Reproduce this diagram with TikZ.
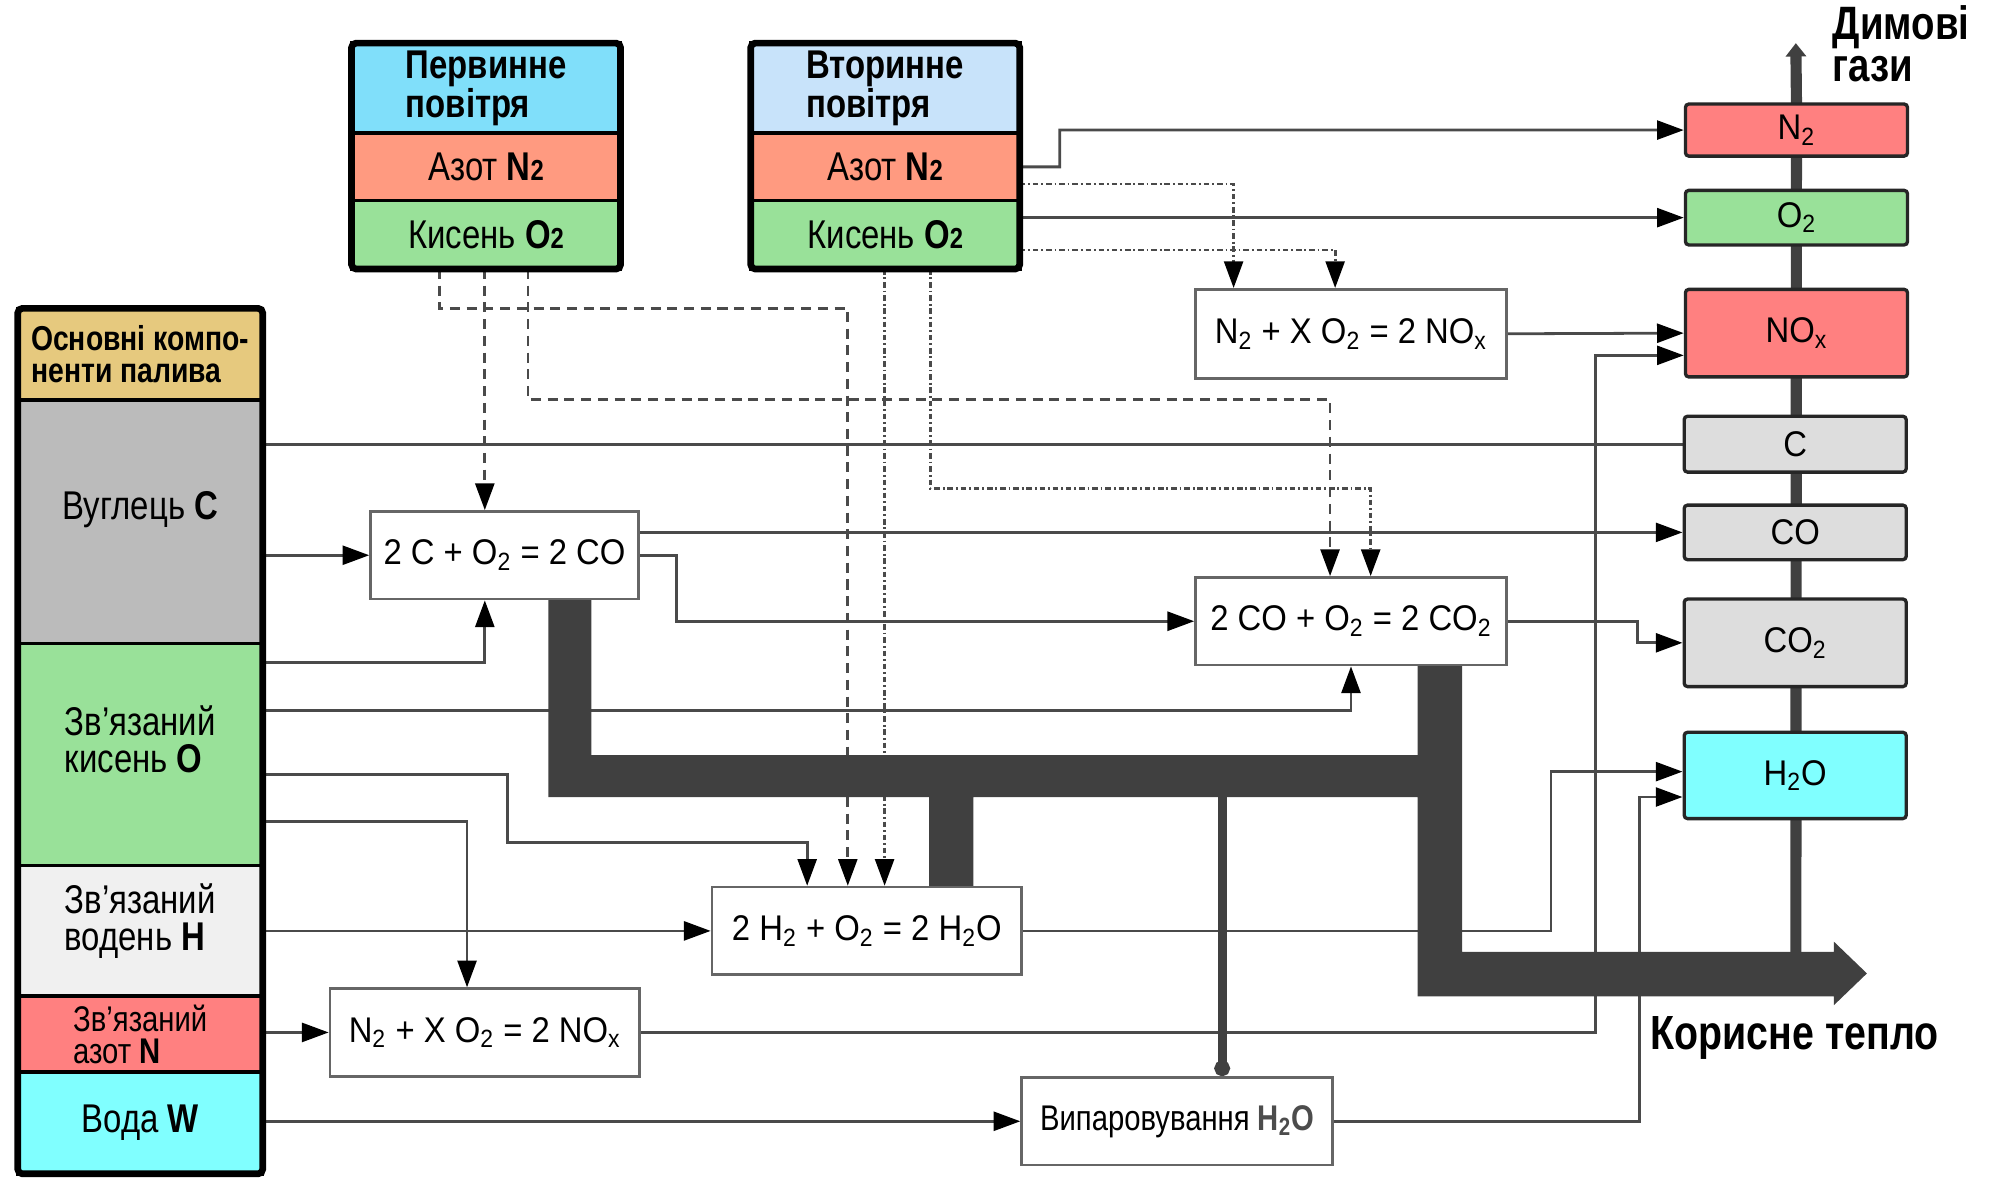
\documentclass[tikz,border=0pt]{standalone}
\usepackage{fontspec}
\setmainfont{Liberation Sans}
\newfontfamily\narrowf{Liberation Sans}[FakeStretch=0.82]
\newfontfamily\eqnf{Liberation Sans}[FakeStretch=0.92]
\usepackage{xcolor}
\usepackage{tikz}
\usetikzlibrary{positioning, arrows.meta}
\pgfdeclarelayer{background}
\pgfsetlayers{background,main}

\definecolor{airblue}{HTML}{80DFFA}
\definecolor{airpale}{HTML}{C8E3FA}
\definecolor{nitro}{HTML}{FF9A80}
\definecolor{oxy}{HTML}{99E199}
\definecolor{fuelhead}{HTML}{E6C97E}
\definecolor{carbon}{HTML}{BBBBBB}
\definecolor{hydro}{HTML}{F0F0F0}
\definecolor{nred}{HTML}{FF8080}
\definecolor{water}{HTML}{80FFFF}
\definecolor{gasgray}{HTML}{DDDDDD}
\definecolor{heatgray}{HTML}{404040}
\definecolor{wire}{HTML}{4A4A4A}

\newcommand{\lowtwo}{{\fontsize{13}{13}\selectfont 2}}

\begin{document}
\begin{tikzpicture}[
  x=0.02cm, y=-0.02cm,
  cell/.style={draw=black, line width=1.6pt, inner sep=0pt, outer sep=0pt,
               align=left, font=\narrowf\fontsize{18}{16.5}\selectfont},
  aircell/.style={cell, minimum width=4.24cm},
  fuelcell/.style={cell, minimum width=3.86cm},
  frame/.style={draw=black, line width=3pt, rounded corners=2pt},
  gas/.style={draw=black!85, line width=1.5pt, rounded corners=1.5pt,
              minimum width=3.5cm, inner sep=0pt, fill=gasgray,
              font=\eqnf\fontsize{16}{16}\selectfont},
  rxn/.style={draw=black!60, line width=1.2pt, fill=white, inner sep=0pt,
              minimum height=1.38cm, font=\eqnf\fontsize{16}{16}\selectfont},
  wire/.style={draw=wire, line width=1.25pt},
  flow/.style={wire, -{Triangle[length=12pt, width=8.5pt, color=black]}},
  prim/.style={dash pattern=on 4.5pt off 3pt},
  sec/.style={dash pattern=on 2.5pt off 1.3pt on 0.8pt off 1.3pt},
  heat/.style={fill=heatgray, draw=none},
]
\useasboundingbox (0,0) rectangle (1568,928);

% air supply
\node[aircell, fill=airblue, minimum height=1.42cm,
      font=\narrowf\bfseries\fontsize{18}{15.5}\selectfont] (pa) at (383,69.5) {Первинне\\повітря};
\node[aircell, fill=nitro, minimum height=1.06cm, below=0pt of pa] (pn) {Азот \textbf{N\lowtwo}};
\node[aircell, fill=oxy, minimum height=1.08cm, below=0pt of pn] (po) {Кисень \textbf{O\lowtwo}};
\draw[frame] (pa.north west) rectangle (po.south east);

\node[aircell, fill=airpale, minimum height=1.42cm,
      font=\narrowf\bfseries\fontsize{18}{15.5}\selectfont] (sa) at (697.5,69.5) {Вторинне\\повітря};
\node[aircell, fill=nitro, minimum height=1.06cm, below=0pt of sa] (sn) {Азот \textbf{N\lowtwo}};
\node[aircell, fill=oxy, minimum height=1.08cm, below=0pt of sn] (so) {Кисень \textbf{O\lowtwo}};
\draw[frame] (sa.north west) rectangle (so.south east);

% fuel
\node[fuelcell, fill=fuelhead, minimum height=1.44cm,
      font=\narrowf\bfseries\fontsize{15.5}{14.5}\selectfont] (fhead) at (110.5,279) {Основні компо-\\ненти палива};
\node[fuelcell, fill=carbon, minimum height=3.84cm, text depth=14pt, below=0pt of fhead] (fc) {Вуглець \textbf{C}};
\node[fuelcell, fill=oxy, minimum height=3.5cm, text depth=14pt, below=0pt of fc] (fo) {Зв’язаний\\кисень \textbf{O}};
\node[fuelcell, fill=hydro, minimum height=2.06cm, text depth=12pt, below=0pt of fo] (fh) {Зв’язаний\\водень \textbf{H}};
\node[fuelcell, fill=nred, minimum height=1.2cm, below=0pt of fh,
      font=\narrowf\fontsize{16}{14.5}\selectfont] (fn) {Зв’язаний\\азот \textbf{N}};
\node[fuelcell, fill=water, minimum height=1.6cm, below=0pt of fn] (fw) {Вода \textbf{W}};
\draw[frame] (fhead.north west) rectangle (fw.south east);

% flue gas
\node[gas, fill=nred, minimum height=0.82cm] (gn2) at (1415.5,102.5) {N\textsubscript{2}};
\node[gas, fill=oxy, minimum height=0.86cm] (go2) at (1415.5,171.5) {O\textsubscript{2}};
\node[gas, fill=nred, minimum height=1.38cm] (gnox) at (1415.5,262.5) {NO\textsubscript{x}};
\node[gas, minimum height=0.88cm] (gc) at (1414.5,350) {C};
\node[gas, minimum height=0.86cm] (gco) at (1414.5,419.5) {CO};
\node[gas, minimum height=1.38cm] (gco2) at (1414.5,506.5) {CO\textsubscript{2}};
\node[gas, fill=water, minimum height=1.36cm] (gh2o) at (1414.5,611) {H\textsubscript{2}O};
\node[anchor=north west, align=left,
      font=\narrowf\bfseries\fontsize{21}{19}\selectfont] (fluelbl) at (1438,-2) {Димові\\гази};

% reactions
\node[rxn, minimum width=4.22cm] (r1) at (397.5,437.5) {2 C + O\textsubscript{2} = 2 CO};
\node[rxn, minimum width=4.9cm, minimum height=1.4cm] (r2) at (1064.5,263) {N\textsubscript{2} + X O\textsubscript{2} = 2 NO\textsubscript{x}};
\node[rxn, minimum width=4.9cm] (r3) at (1064.5,489.5) {2 CO + O\textsubscript{2} = 2 CO\textsubscript{2}};
\node[rxn, minimum width=4.88cm] (r4) at (683,733.5) {2 H\textsubscript{2} + O\textsubscript{2} = 2 H\textsubscript{2}O};
\node[rxn, minimum width=4.88cm] (r5) at (382,813.5) {N\textsubscript{2} + X O\textsubscript{2} = 2 NO\textsubscript{x}};
\node[rxn, minimum width=4.9cm, font=\narrowf\fontsize{16}{16}\selectfont] (r6) at (927.5,883.5)
  {Випаровування \textcolor{black!70}{\textbf{H\textsubscript{2}O}}};
\node[font=\narrowf\bfseries\fontsize{21.5}{20}\selectfont] (heatlbl) at (1414,818) {Корисне тепло};

\begin{pgfonlayer}{background}
% fuel components
\draw[wire] (fc.east |- gc.west) -- (gc.west);
\draw[flow] (fc.east |- r1.west) -- (r1.west);
\draw[flow] (fo.east |- 0,522) -| (r1.south -| 382,0);
\draw[flow] (fo.east |- 0,560) -| (r3.south);
\draw[flow] (fo.east |- 0,610) -- (400,610) -- (400,664) -| (r4.north -| 636,0);
\draw[flow] (fo.east |- 0,647) -| (r5.north -| 368,0);
\draw[flow] (fh.east |- r4.west) -- (r4.west);
\draw[flow] (fn.east |- r5.west) -- (r5.west);
\draw[flow] (fw.east |- r6.west) -- (r6.west);
% primary air
\draw[flow, prim] (po.south -| 346,0) -- (346,243) -| (r4.north -| 668,0);
\draw[flow, prim] (po.south -| 382,0) -- (r1.north -| 382,0);
\draw[flow, prim] (po.south -| 416,0) -- (416,315) -| (r3.north -| 1048,0);
% secondary air
\draw[flow, sec] (so.south -| 697,0) -- (r4.north -| 697,0);
\draw[flow, sec] (so.south -| 733,0) -- (733,385) -| (r3.north -| 1080,0);
\draw[flow, sec] (sn.east |- 0,145) -| (r2.north -| 972,0);
\draw[flow, sec] (so.east |- 0,197) -| (r2.north -| 1052,0);
\draw[flow] (sn.east) -- (835,131.5) |- (gn2.west);
\draw[flow] (so.east |- go2.west) -- (go2.west);
% products
\draw[flow] (r2.east) -- (gnox.west);
\draw[flow] (r1.east |- gco.west) -- (gco.west);
\draw[flow] (r1.east) -- (533,437.5) |- (r3.west);
\draw[flow] (r3.east) -- (1290,489.5) |- (gco2.west);
\draw[flow] (r4.east) -- (1222,733.5) |- (gh2o.west |- 0,608);
\draw[flow] (r5.east) -- (1257,813.5) |- (gnox.west |- 0,280);
\draw[flow] (r6.east) -- (1292,883.5) |- (gh2o.west |- 0,628);
% heat
\fill[heat] (432,472) -- (466,472) -- (466,595) -- (1117,595) -- (1117,524)
  -- (1152,524) -- (1152,750) -- (1445,750) -- (1445,742) -- (1471,767)
  -- (1445,792) -- (1445,785) -- (1117,785) -- (1117,628) -- (767,628)
  -- (767,699) -- (732,699) -- (732,628) -- (432,628) -- cycle;
\draw[draw=heatgray, line width=4pt, -{Circle[length=7pt]}] (963,628) -- (r6.north -| 963,0);
\draw[draw=heatgray, line width=5pt, -{Triangle[length=6pt, width=9pt]}] (1415,757) -- (gn2.north) -- (1415,34);
\end{pgfonlayer}
\end{tikzpicture}
\end{document}
